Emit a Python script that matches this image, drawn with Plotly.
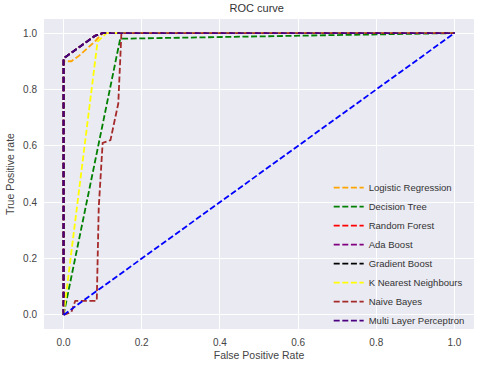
import plotly.graph_objects as go

# ROC curve points
lr_fpr = [0.0, 0.0, 0.02, 0.04, 0.08, 0.10, 1.0]
lr_tpr = [0.0, 0.90, 0.90, 0.92, 0.97, 1.0, 1.0]

dt_fpr = [0.0, 0.145, 1.0]
dt_tpr = [0.0, 0.98, 1.0]

rf_fpr = [0.0, 0.0, 0.02, 0.05, 0.08, 0.10, 1.0]
rf_tpr = [0.0, 0.91, 0.93, 0.96, 0.99, 1.0, 1.0]

ada_fpr = [0.0, 0.0, 0.02, 0.05, 0.08, 0.10, 1.0]
ada_tpr = [0.0, 0.91, 0.93, 0.96, 0.99, 1.0, 1.0]

gb_fpr = [0.0, 0.0, 0.02, 0.05, 0.08, 0.10, 1.0]
gb_tpr = [0.0, 0.91, 0.93, 0.96, 0.99, 1.0, 1.0]

knn_fpr = [0.0, 0.087, 0.11, 1.0]
knn_tpr = [0.0, 0.97, 1.0, 1.0]

nb_fpr = [0.0, 0.02, 0.03, 0.085, 0.09, 0.10, 0.12, 0.14, 0.148, 1.0]
nb_tpr = [0.0, 0.01, 0.05, 0.05, 0.38, 0.61, 0.62, 0.75, 1.0, 1.0]

mlp_fpr = [0.0, 0.0, 0.02, 0.05, 0.08, 0.10, 1.0]
mlp_tpr = [0.0, 0.91, 0.93, 0.96, 0.99, 1.0, 1.0]

diag = [0.0, 1.0]

series = [
    ("Logistic Regression", lr_fpr, lr_tpr, "orange"),
    ("Decision Tree", dt_fpr, dt_tpr, "green"),
    ("Random Forest", rf_fpr, rf_tpr, "red"),
    ("Ada Boost", ada_fpr, ada_tpr, "purple"),
    ("Gradient Boost", gb_fpr, gb_tpr, "black"),
    ("K Nearest Neighbours", knn_fpr, knn_tpr, "yellow"),
    ("Naive Bayes", nb_fpr, nb_tpr, "brown"),
    ("Multi Layer Perceptron", mlp_fpr, mlp_tpr, "indigo"),
]

DASH = "6px,2.6px"

fig = go.Figure()

for name, fpr, tpr, color in series:
    fig.add_trace(go.Scatter(
        x=fpr, y=tpr, mode="lines", name=name,
        line=dict(color=color, width=1.8, dash=DASH)
    ))

fig.add_trace(go.Scatter(
    x=diag, y=diag, mode="lines", showlegend=False,
    line=dict(color="blue", width=1.8, dash=DASH)
))

axis_style = dict(
    range=[-0.05, 1.05],
    tickvals=[0, 0.2, 0.4, 0.6, 0.8, 1.0],
    ticktext=["0.0", "0.2", "0.4", "0.6", "0.8", "1.0"],
    showgrid=True, gridcolor="white", gridwidth=1,
    zeroline=False, showline=False, ticks="",
    tickfont=dict(size=10, color="#444"),
    automargin=False,
)

fig.update_layout(
    width=480, height=366,
    margin=dict(l=44, r=6, t=19, b=37),
    paper_bgcolor="white",
    plot_bgcolor="#EAEAF2",
    font=dict(family="Liberation Sans, Arial, sans-serif", size=10, color="#444"),
    title=dict(text="ROC curve", x=0.535, xanchor="center", y=0.978, yanchor="middle",
               font=dict(size=11, color="#333")),
    xaxis=dict(title=dict(text="False Positive Rate", standoff=4, font=dict(size=10.5)),
               ticklabelstandoff=6, **axis_style),
    yaxis=dict(title=dict(text="True Positive rate", standoff=6, font=dict(size=10.5)),
               ticklabelstandoff=6, **axis_style),
    legend=dict(
        x=0.99, y=-0.02, xanchor="right", yanchor="bottom",
        bgcolor="rgba(0,0,0,0)", font=dict(size=9.5, color="#333"),
        tracegroupgap=0, itemwidth=30,
    ),
)

# drop the browser's default body margin so the figure sits at the page corner
fig.write_html("out.html", config={"displayModeBar": False},
               post_script="document.body.style.margin='0';")
